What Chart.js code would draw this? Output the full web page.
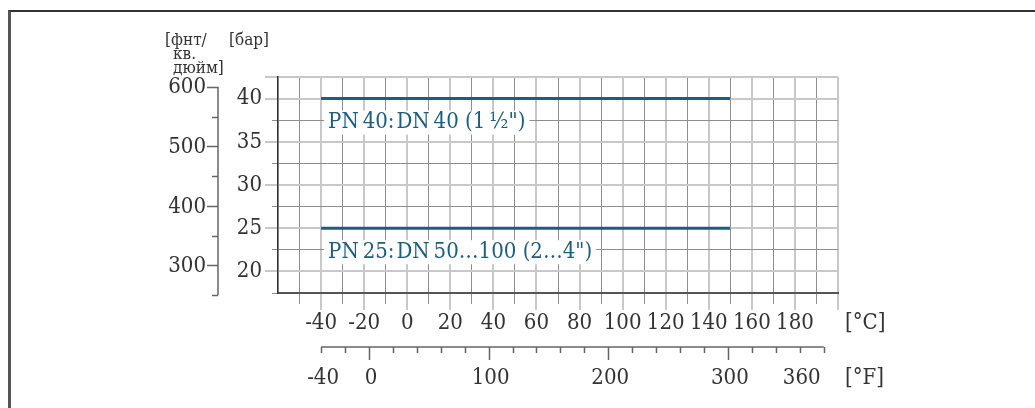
<!DOCTYPE html>
<html>
<head>
<meta charset="utf-8">
<script src="https://cdn.jsdelivr.net/npm/chart.js@4.4.0/dist/chart.umd.min.js"></script>
<style>
  body { margin: 0; background: #fff; }
  #wrap { position: relative; width: 1035px; height: 408px; overflow: hidden; }
  #frame { position: absolute; left: 8px; top: 10px; right: -4px; bottom: -4px; border-top: 2px solid #333; border-left: 3px solid #555; }
  canvas { position: absolute; left: 0; top: 0; }
</style>
</head>
<body>
<div id="wrap">
  <div id="frame"></div>
  <canvas id="pressureChart" width="1035" height="408"></canvas>
</div>
<script>
// rating lines: pressure (bar) against process temperature (°C)
var tempC = [-40, 150];
var pn40Bar = [40, 40];
var pn25Bar = [25, 25];
var seriesNames = ['PN\u200940:\u200aDN\u200940 (1\u2009½")', 'PN\u200925:\u200aDN\u200950…100 (2…4")'];

// labelled ticks on each axis
var celsiusTicks = [-40, -20, 0, 20, 40, 60, 80, 100, 120, 140, 160, 180];
var barTicks = [20, 25, 30, 35, 40];
var psiTicks = [300, 400, 500, 600];
var fahrenheitTicks = [-40, 0, 100, 200, 300, 360];

var PSI_PER_BAR = 14.5038;
var FONT = '"DejaVu Serif Condensed", "DejaVu Serif", serif';
var INK = '#333';
var BLUE = '#1b5e80';
var GRID_LIGHT = '#c8c8c8';
var GRID_DARK = '#8e8e8e';

function toPoints(xs, ys) {
  return xs.map(function (x, i) { return { x: x, y: ys[i] }; });
}
function fToC(f) { return (f - 32) / 1.8; }

function isMajorC(v) { return v % 20 === 0; }
function isMajorBar(v) { return v % 5 === 0 || v === 42.5; }

// psi and °F scales hang off the bar / °C scales
var extraAxes = {
  id: 'extraAxes',
  afterDatasetsDraw: function (chart) {
    var c = chart.ctx;
    var xs = chart.scales.x, ys = chart.scales.y;

    // series captions on a white box
    c.save();
    c.font = '22px ' + FONT;
    c.textBaseline = 'middle';
    [pn40Bar, pn25Bar].forEach(function (vals, i) {
      var tx = xs.getPixelForValue(tempC[0]) + 7;
      var ty = ys.getPixelForValue(vals[0]) + 24;
      var w = c.measureText(seriesNames[i]).width;
      c.fillStyle = '#fff';
      c.fillRect(tx - 4, ty - 12, w + 8, 24);
      c.fillStyle = BLUE;
      c.fillText(seriesNames[i], tx, ty);
    });
    c.restore();
  },
  afterDraw: function (chart) {
    var c = chart.ctx;
    var xs = chart.scales.x, ys = chart.scales.y;
    c.save();
    c.strokeStyle = '#666';
    c.lineWidth = 1.5;
    c.fillStyle = INK;

    // psi axis
    var ax = ys.left;
    var pTop = ys.getPixelForValue(600 / PSI_PER_BAR);
    var pBot = ys.getPixelForValue(250 / PSI_PER_BAR);
    c.beginPath();
    c.moveTo(ax, pTop);
    c.lineTo(ax, pBot);
    for (var p = 250; p <= 600; p += 50) {
      var py = Math.round(ys.getPixelForValue(p / PSI_PER_BAR)) + 0.5;
      var len = psiTicks.indexOf(p) >= 0 ? 11 : 6;
      c.moveTo(ax, py);
      c.lineTo(ax - len, py);
    }
    c.stroke();
    c.font = '22px ' + FONT;
    c.textAlign = 'right';
    c.textBaseline = 'middle';
    psiTicks.forEach(function (p) {
      c.fillText(String(p), ax - 12, ys.getPixelForValue(p / PSI_PER_BAR) + 1);
    });

    // °F axis
    var fy = 347;
    c.beginPath();
    c.moveTo(xs.getPixelForValue(fToC(-40)), fy);
    c.lineTo(xs.getPixelForValue(fToC(380)), fy);
    for (var f = -40; f <= 380; f += 20) {
      var fx = Math.round(xs.getPixelForValue(fToC(f))) + 0.5;
      var flen = (f % 100 === 0) ? 13 : 6;
      c.moveTo(fx, fy);
      c.lineTo(fx, fy + flen);
    }
    c.stroke();
    c.textAlign = 'center';
    fahrenheitTicks.forEach(function (f) {
      c.fillText(String(f), xs.getPixelForValue(fToC(f)) + 2, 378);
    });

    // unit captions
    c.textAlign = 'left';
    c.fillText('[°C]', 845, 323);
    c.fillText('[°F]', 845, 378);
    c.font = '17px ' + FONT;
    c.fillText('[фнт/', 165, 41);
    c.fillText('кв.', 173, 55);
    c.fillText('дюйм]', 173, 69);
    c.fillText('[бар]', 229, 41);
    c.restore();
  }
};

var ctx = document.getElementById('pressureChart').getContext('2d');
var pressureChart = new Chart(ctx, {
  type: 'line',
  data: {
    datasets: [{
      label: seriesNames[0],
      data: toPoints(tempC, pn40Bar),
      borderColor: BLUE,
      borderWidth: 3,
      pointRadius: 0
    }, {
      label: seriesNames[1],
      data: toPoints(tempC, pn25Bar),
      borderColor: BLUE,
      borderWidth: 3,
      pointRadius: 0
    }]
  },
  options: {
    responsive: false,
    animation: false,
    devicePixelRatio: 1,
    layout: { padding: { left: 218, top: 77, right: 197, bottom: 73 } },
    plugins: { legend: { display: false }, tooltip: { enabled: false } },
    scales: {
      x: {
        type: 'linear',
        min: -60,
        max: 200,
        ticks: {
          stepSize: 10,
          autoSkip: false,
          maxRotation: 0,
          padding: 0,
          color: INK,
          font: { family: FONT, size: 22 },
          callback: function (v) { return celsiusTicks.indexOf(v) >= 0 ? String(v) : ''; }
        },
        grid: {
          color: function (c) { return isMajorC(c.tick.value) ? GRID_LIGHT : GRID_DARK; },
          lineWidth: function (c) { return isMajorC(c.tick.value) ? 2 : 1; },
          tickLength: 17,
          tickColor: function (c) {
            if (c.tick.value === -60) return 'rgba(0,0,0,0)';
            return isMajorC(c.tick.value) ? GRID_LIGHT : GRID_DARK;
          },
          tickWidth: function (c) { return isMajorC(c.tick.value) ? 2 : 1; },
          tickBorderDash: [17, 10],
          tickBorderDashOffset: function (c) { return isMajorC(c.tick.value) ? 0 : 7; }
        },
        border: { color: '#555', width: 2 },
        afterFit: function (s) { s.height = 42; }
      },
      y: {
        type: 'linear',
        min: 17.5,
        max: 42.5,
        ticks: {
          stepSize: 2.5,
          autoSkip: false,
          padding: 3,
          color: INK,
          font: { family: FONT, size: 22 },
          callback: function (v) { return barTicks.indexOf(v) >= 0 ? String(v) : ''; }
        },
        grid: {
          color: function (c) { return isMajorBar(c.tick.value) ? GRID_LIGHT : GRID_DARK; },
          lineWidth: function (c) { return isMajorBar(c.tick.value) ? 2 : 1; },
          tickLength: 13,
          tickColor: function (c) { return isMajorBar(c.tick.value) ? GRID_LIGHT : GRID_DARK; },
          tickWidth: function (c) { return isMajorBar(c.tick.value) ? 2 : 1; },
          tickBorderDash: [13, 7],
          tickBorderDashOffset: function (c) { return isMajorBar(c.tick.value) ? 0 : 13; }
        },
        border: { color: '#333', width: 1.5 },
        afterFit: function (s) { s.width = 60; }
      }
    }
  },
  plugins: [extraAxes]
});
</script>
</body>
</html>
